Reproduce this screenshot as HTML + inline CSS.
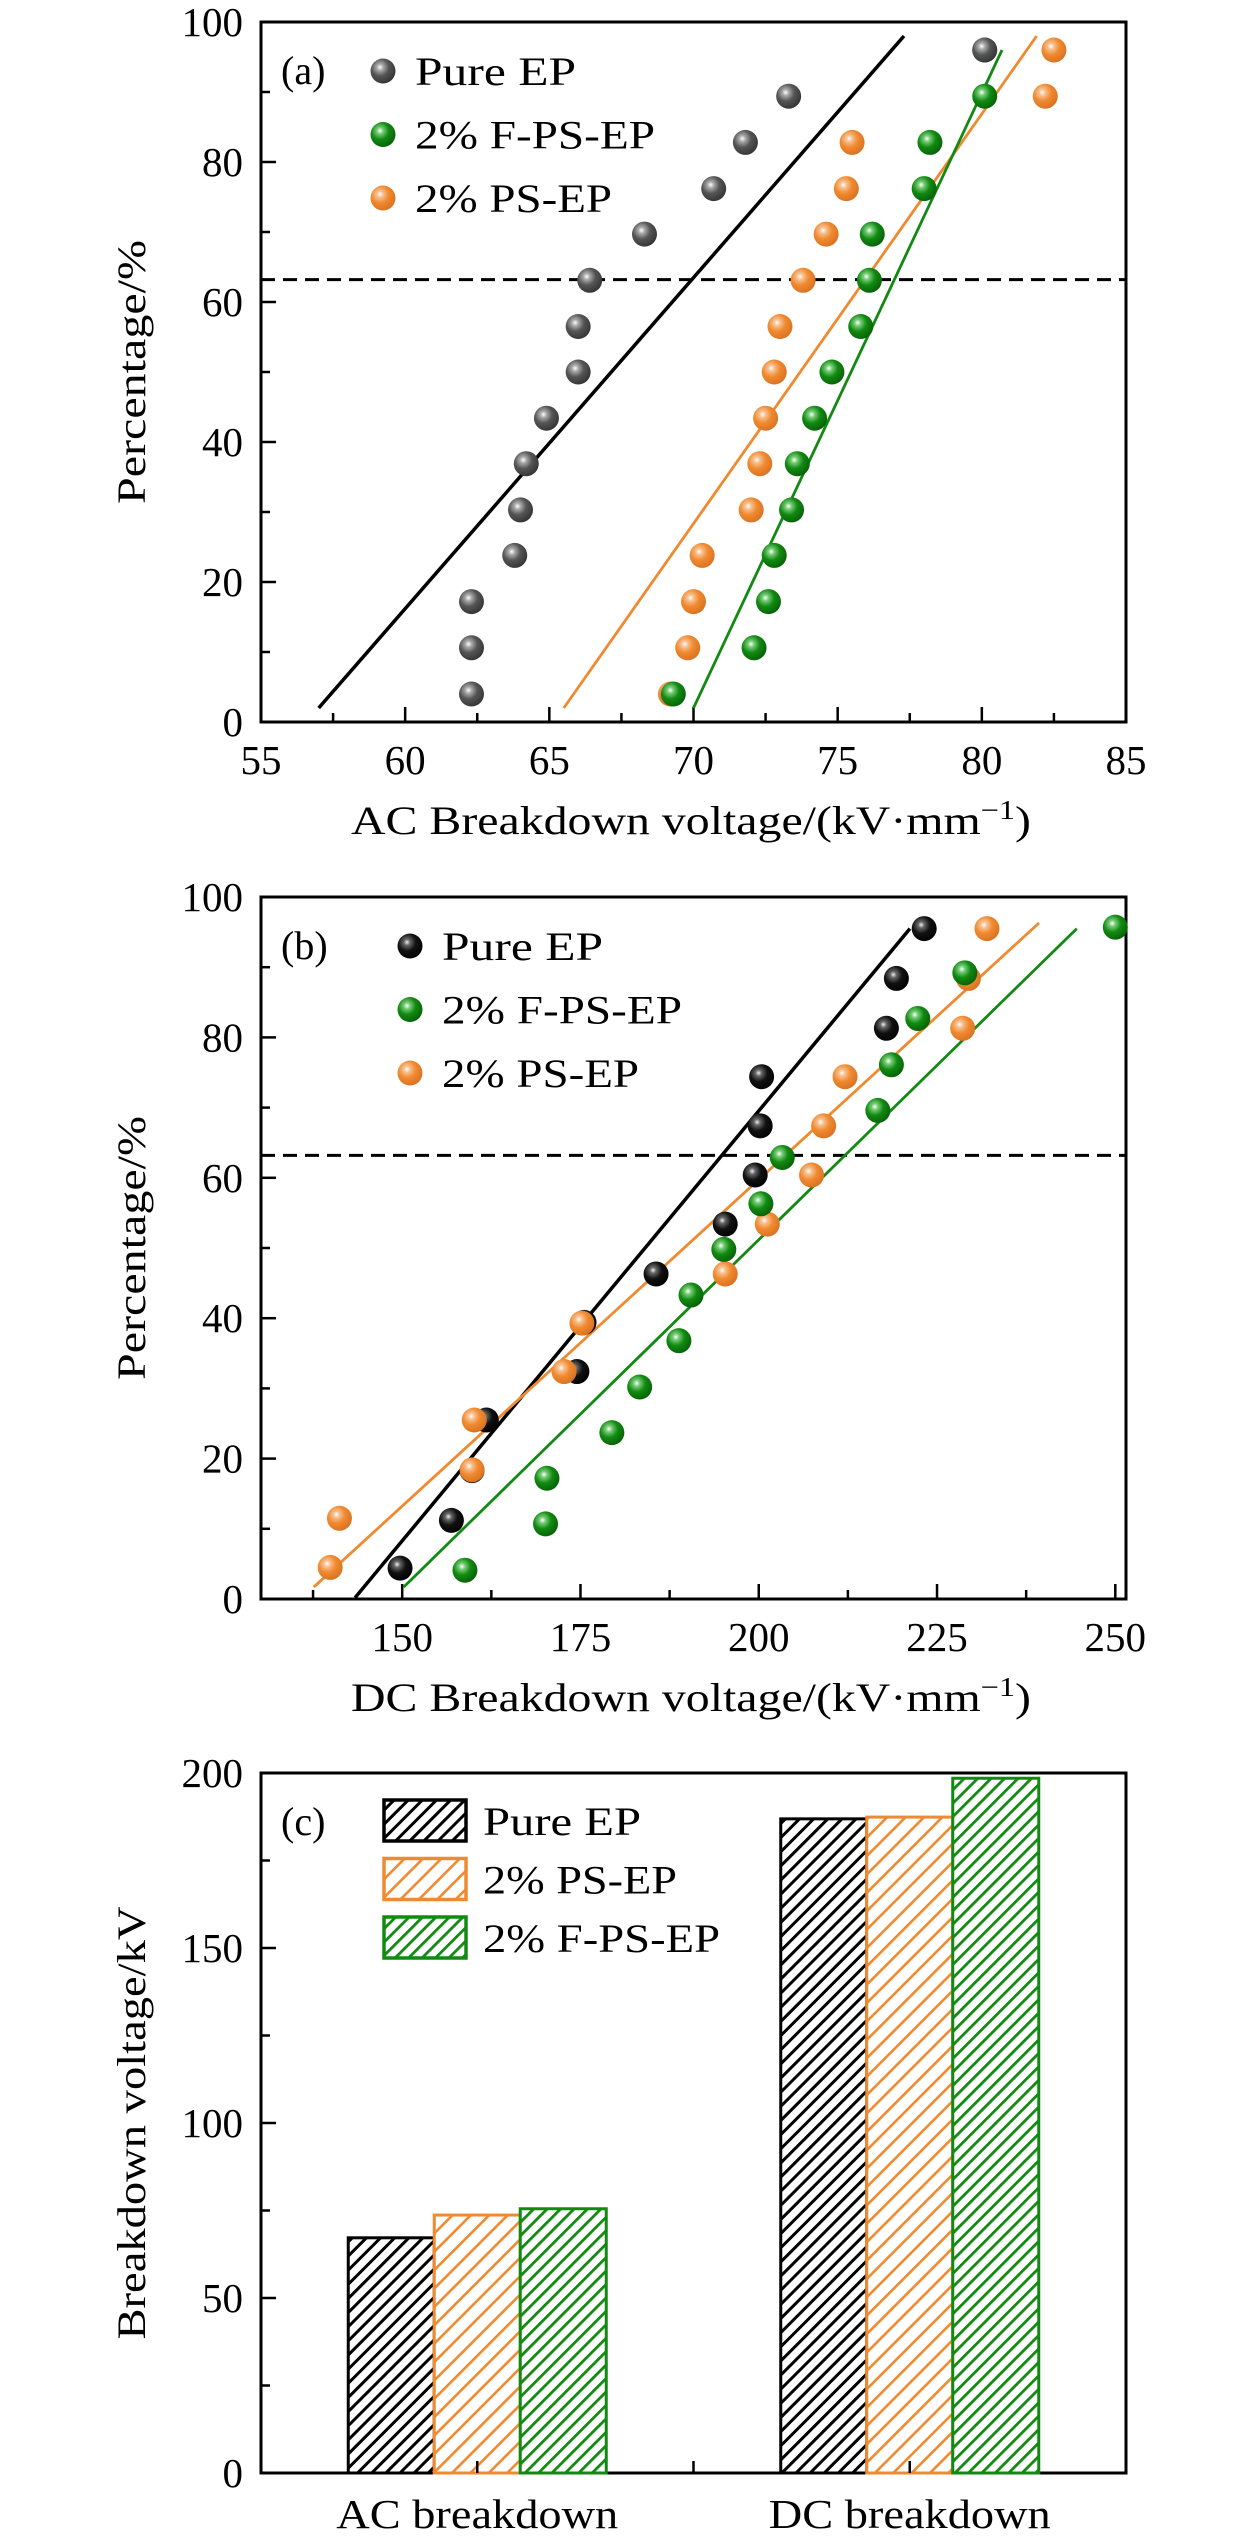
<!DOCTYPE html>
<html><head><meta charset="utf-8"><title>Breakdown voltage charts</title>
<style>
html,body{margin:0;padding:0;background:#fff;}
svg{display:block;font-family:"Liberation Serif",serif;}
</style></head>
<body>
<svg id="fig" width="1260" height="2542" viewBox="0 0 1260 2542" xmlns="http://www.w3.org/2000/svg">
<defs>
<radialGradient id="g-gray" cx="0.38" cy="0.35" r="0.7"><stop offset="0" stop-color="#fff"/><stop offset="0.18" stop-color="#aaa"/><stop offset="0.5" stop-color="#555"/><stop offset="1" stop-color="#333"/></radialGradient>
<radialGradient id="g-black" cx="0.38" cy="0.35" r="0.7"><stop offset="0" stop-color="#eee"/><stop offset="0.18" stop-color="#666"/><stop offset="0.5" stop-color="#111"/><stop offset="1" stop-color="#000"/></radialGradient>
<radialGradient id="g-green" cx="0.38" cy="0.35" r="0.7"><stop offset="0" stop-color="#fff"/><stop offset="0.18" stop-color="#7c7"/><stop offset="0.5" stop-color="#128a12"/><stop offset="1" stop-color="#065f06"/></radialGradient>
<radialGradient id="g-orange" cx="0.38" cy="0.35" r="0.7"><stop offset="0" stop-color="#fff"/><stop offset="0.18" stop-color="#f8c090"/><stop offset="0.5" stop-color="#f08a30"/><stop offset="1" stop-color="#d87020"/></radialGradient>
<pattern id="h-black" patternUnits="userSpaceOnUse" width="10" height="10" patternTransform="rotate(45)"><rect width="10" height="10" fill="#fff"/><rect x="0" y="0" width="3" height="10" fill="#000"/></pattern>
<pattern id="h-orange" patternUnits="userSpaceOnUse" width="13" height="13" patternTransform="rotate(45)"><rect width="13" height="13" fill="#fff"/><rect x="0" y="0" width="2.6" height="13" fill="#f08a30"/></pattern>
<pattern id="h-green" patternUnits="userSpaceOnUse" width="9.5" height="9.5" patternTransform="rotate(45)"><rect width="9.5" height="9.5" fill="#fff"/><rect x="0" y="0" width="2.8" height="9.5" fill="#128a12"/></pattern>
</defs>
</svg>
<script>
// ---------- Panel (a) data ----------
const aPct = [4.0,10.6,17.2,23.8,30.3,36.9,43.4,50,56.5,63.1,69.7,76.2,82.8,89.4,96];
const aPure = [62.3,62.3,62.3,63.8,64.0,64.2,64.9,66.0,66.0,66.4,68.3,70.7,71.8,73.3,80.1];
const aFPS = [69.3,72.1,72.6,72.8,73.4,73.6,74.2,74.8,75.8,76.1,76.2,78.0,78.2,80.1,80.1];
const aPS = [69.2,69.8,70.0,70.3,72.0,72.3,72.5,72.8,73.0,73.8,74.6,75.3,75.5,82.2,82.5];
const aFitPure = [[57.0,2],[77.3,98]];
const aFitPS = [[65.5,2],[81.9,98]];
const aFitFPS = [[70.0,2],[80.7,96]];
const aXTicks = [55,60,65,70,75,80,85];
const aYTicks = [0,20,40,60,80,100];
// ---------- Panel (b) data ----------
const bPurePct = [4.4,11.2,18.3,25.5,32.4,39.4,46.3,53.4,60.4,67.4,74.4,81.3,88.4,95.5];
const bPure = [149.7,156.9,159.8,161.8,174.5,175.5,185.6,195.3,199.5,200.2,200.4,217.9,219.3,223.2];
const bPSPct = [4.5,11.5,18.4,25.5,32.4,39.3,46.3,53.4,60.4,67.4,74.4,81.3,88.4,95.5];
const bPS = [139.9,141.2,159.8,160.1,172.7,175.2,195.3,201.2,207.4,209.1,212.1,228.6,229.4,232.0];
const bFPSPct = [4.1,10.7,17.2,23.7,30.2,36.8,43.3,49.8,56.3,62.9,69.6,76.1,82.7,89.2,95.7];
const bFPS = [158.8,170.1,170.3,179.4,183.3,188.8,190.5,195.1,200.3,203.3,216.7,218.6,222.3,228.9,250.0];
const bFitPure = [[143.4,0.2],[221.2,95.5]];
const bFitPS = [[137.6,1.7],[239.3,96.3]];
const bFitFPS = [[150.2,1.7],[244.6,95.5]];
const bXTicks = [150,175,200,225,250];
const bYTicks = [0,20,40,60,80,100];
// ---------- Panel (c) data ----------
const cCategories = ["AC breakdown","DC breakdown"];
const cPure = [67.2,186.9];
const cPS = [73.7,187.4];
const cFPS = [75.5,198.5];
const cYTicks = [0,50,100,150,200];
const weibullLine = 63.2;

const NS="http://www.w3.org/2000/svg";
const svg=document.getElementById('fig');
function mk(tag,attrs,parent){const e=document.createElementNS(NS,tag);for(const k in attrs)e.setAttribute(k,attrs[k]);(parent||svg).appendChild(e);return e;}
function txt(s,attrs,parent){const e=mk('text',attrs,parent);e.textContent=s;return e;}
function legLen(s){return s==='Pure EP'?161:(s==='2% PS-EP'?197:240);}

const L=261,R=1126;

function axesFrame(g,top,bot,ytk,ysc,yminor,xtk,xsc,xminor,ytitle,ytLen,xtitle,panel){
  const fr=mk('rect',{x:L,y:top,width:R-L,height:bot-top,fill:'none',stroke:'#000','stroke-width':3},g);
  
  
  yminor.forEach(v=>{const t=mk('line',{x1:L,x2:L+9,y1:ysc(v),y2:ysc(v),stroke:'#000','stroke-width':2.5},g);
    });
  ytk.forEach(v=>{const t=mk('line',{x1:L,x2:L+15,y1:ysc(v),y2:ysc(v),stroke:'#000','stroke-width':2.5},g);
    
    const l=txt(String(v),{x:L-18,y:ysc(v)+14,'font-size':41,'text-anchor':'end'},g);
    });
  if(xsc){
    xminor.forEach(v=>{const t=mk('line',{x1:xsc(v),x2:xsc(v),y1:bot,y2:bot-9,stroke:'#000','stroke-width':2.5},g);
      });
    xtk.forEach(v=>{const t=mk('line',{x1:xsc(v),x2:xsc(v),y1:bot,y2:bot-15,stroke:'#000','stroke-width':2.5},g);
      
      const l=txt(String(v),{x:xsc(v),y:bot+52,'font-size':41,'text-anchor':'middle'},g);
      });
  }
  const yc=(top+bot)/2;
  const yt=txt(ytitle,{x:0,y:0,'font-size':40,'text-anchor':'middle',textLength:ytLen,lengthAdjust:'spacingAndGlyphs',transform:`translate(145,${yc}) rotate(-90)`},g);
  
  if(xtitle){
    const xt=mk('text',{x:691,y:bot+112,'font-size':40,'text-anchor':'middle',textLength:680,lengthAdjust:'spacingAndGlyphs'},g);
    
    xt.appendChild(document.createTextNode(xtitle));
    const sup=mk('tspan',{'font-size':27,dy:-15},xt);sup.textContent='−1';
    const cl=mk('tspan',{dy:15},xt);cl.textContent=')';
  }
  const pl=txt(panel,{x:281,y:top+62,'font-size':40},g);
  
}

function scatterPanel(name,top,bot,xmin,xmax,xtk,xminor,series,fits,xtitle,panel,legY,lx){
  const g=mk('g',{});
  
  
  const xs=v=>L+(v-xmin)/(xmax-xmin)*(R-L);
  const ys=v=>bot-v/100*(bot-top);
  axesFrame(g,top,bot,aYTicks,ys,[10,30,50,70,90],xtk,xs,xminor,'Percentage/%',264,xtitle,panel);
  const d=mk('line',{x1:L,x2:R,y1:ys(weibullLine),y2:ys(weibullLine),stroke:'#000','stroke-width':3,'stroke-dasharray':'14,8'},g);
  
  
  fits.forEach(f=>{const l=mk('line',{x1:xs(f.p[0][0]),y1:ys(f.p[0][1]),x2:xs(f.p[1][0]),y2:ys(f.p[1][1]),stroke:f.c,'stroke-width':f.w},g);
    });
  series.forEach(s=>{s.x.forEach((v,i)=>{const c=mk('circle',{cx:xs(v),cy:ys(s.y[i]),r:12.5,fill:`url(#${s.grad})`},g);
    });});
  series.slice().sort((a,b)=>a.li-b.li).forEach((s,k)=>{
    const ly=legY+k*63.5;
    const c=mk('circle',{cx:lx,cy:ly,r:12.5,fill:`url(#${s.grad})`},g);
    
    const t=txt(s.label,{x:lx+32,y:ly+14,'font-size':40,textLength:legLen(s.label),lengthAdjust:'spacingAndGlyphs'},g);
    
  });
}

scatterPanel('panel-a-ac-weibull',22,722,55,85,aXTicks,[57.5,62.5,67.5,72.5,77.5,82.5],
 [{x:aPS,y:aPct,grad:'g-orange',n:'ps-ep',label:'2% PS-EP',li:2},
  {x:aFPS,y:aPct,grad:'g-green',n:'f-ps-ep',label:'2% F-PS-EP',li:1},
  {x:aPure,y:aPct,grad:'g-gray',n:'pure-ep',label:'Pure EP',li:0}],
 [{p:aFitPure,c:'#000',w:3.5,n:'fit-line-pure-ep'},{p:aFitPS,c:'#f08a30',w:2.8,n:'fit-line-ps-ep'},{p:aFitFPS,c:'#128a12',w:2.8,n:'fit-line-f-ps-ep'}],
 'AC Breakdown voltage/(kV·mm','(a)',71,383);

scatterPanel('panel-b-dc-weibull',897,1599,130.2,251.5,bXTicks,[137.5,162.5,187.5,212.5,237.5],
 [{x:bPure,y:bPurePct,grad:'g-black',n:'pure-ep',label:'Pure EP',li:0},
  {x:bPS,y:bPSPct,grad:'g-orange',n:'ps-ep',label:'2% PS-EP',li:2},
  {x:bFPS,y:bFPSPct,grad:'g-green',n:'f-ps-ep',label:'2% F-PS-EP',li:1}],
 [{p:bFitPure,c:'#000',w:3.5,n:'fit-line-pure-ep'},{p:bFitPS,c:'#f08a30',w:2.8,n:'fit-line-ps-ep'},{p:bFitFPS,c:'#128a12',w:2.8,n:'fit-line-f-ps-ep'}],
 'DC Breakdown voltage/(kV·mm','(b)',946,410);

// ---------- Panel (c) ----------
(function(){
  const top=1773,bot=2473;
  const g=mk('g',{});
  
  
  const ys=v=>bot-v/200*(bot-top);
  axesFrame(g,top,bot,cYTicks,ys,[25,75,125,175],null,null,null,'Breakdown voltage/kV',433,null,'(c)');
  const catW=(R-L)/cCategories.length;
  const bw=86;
  const sers=[{v:cPure,f:'h-black',s:'#000',n:'bar-pure-ep'},{v:cPS,f:'h-orange',s:'#f08a30',n:'bar-ps-ep'},{v:cFPS,f:'h-green',s:'#128a12',n:'bar-f-ps-ep'}];
  cCategories.forEach((c,i)=>{
    const cx=L+catW*(i+0.5);
    sers.forEach((s,k)=>{
      const x=cx-1.5*bw+k*bw;
      const r=mk('rect',{x:x,y:ys(s.v[i]),width:bw,height:bot-ys(s.v[i]),fill:`url(#${s.f})`,stroke:s.s,'stroke-width':3},g);
      
    });
    const t=mk('line',{x1:cx,x2:cx,y1:bot,y2:bot-12,stroke:'#000','stroke-width':2.5},g);
    
    const l=txt(c,{x:cx,y:bot+55,'font-size':41,'text-anchor':'middle',textLength:282,lengthAdjust:'spacingAndGlyphs'},g);
    
  });
  const mt=mk('line',{x1:L+catW,x2:L+catW,y1:bot,y2:bot-12,stroke:'#000','stroke-width':2.5},g);
  
  const labels=['Pure EP','2% PS-EP','2% F-PS-EP'];
  sers.forEach((s,k)=>{
    const y=1800+k*58.5;
    const r=mk('rect',{x:384,y:y,width:82,height:41,fill:`url(#${s.f})`,stroke:s.s,'stroke-width':3.5},g);
    
    const t=txt(labels[k],{x:483,y:y+35,'font-size':40,textLength:legLen(labels[k])-3,lengthAdjust:'spacingAndGlyphs'},g);
    
  });
})();
</script>
</body></html>
